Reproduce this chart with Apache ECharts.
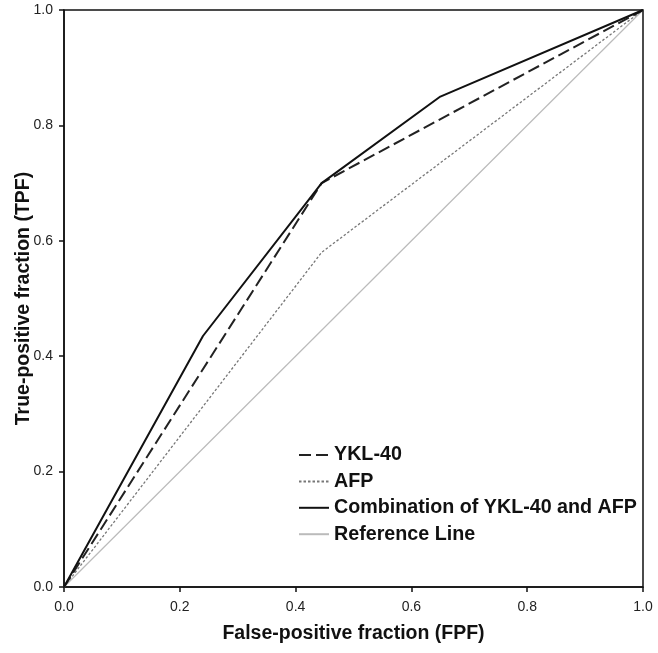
<!DOCTYPE html>
<html>
<head>
    <meta charset="UTF-8">
    <title>ROC curves</title>
    <script src="https://cdn.jsdelivr.net/npm/echarts@6/dist/echarts.min.js"></script>
    <style>
        body { margin: 0; background: #fff; }
        #main { width: 658px; height: 653px; }
    </style>
</head>
<body>
    <div id="main"></div>
    <script type="text/javascript">
        // ROC points, [FPF, TPF]
        var ykl40 = [[0, 0], [0.445, 0.70], [1, 1]];
        var afp = [[0, 0], [0.445, 0.58], [1, 1]];
        var combination = [[0, 0], [0.24, 0.435], [0.445, 0.70], [0.65, 0.85], [1, 1]];
        var referenceLine = [[0, 0], [1, 1]];

        var myChart = echarts.init(document.getElementById('main'));
        var font = 'Arial, "Liberation Sans", sans-serif';

        function axisBits(name, gap, rotate, margin) {
            return {
                type: 'value',
                min: 0,
                max: 1,
                interval: 0.2,
                name: name,
                nameLocation: 'middle',
                nameGap: gap,
                nameRotate: rotate,
                nameMoveOverlap: false,
                nameTextStyle: { fontFamily: font, fontSize: 19.5, fontWeight: 'bold', color: '#111' },
                axisLine: { show: true, lineStyle: { color: '#111', width: 1.5 } },
                axisTick: { show: true, length: 5, lineStyle: { color: '#111', width: 1.5 } },
                axisLabel: {
                    fontFamily: font, fontSize: 14, color: '#222', margin: margin,
                    formatter: function (v) { return v.toFixed(1); }
                },
                splitLine: { show: false }
            };
        }

        myChart.setOption({
            animation: false,
            backgroundColor: '#fff',
            grid: {
                left: 64, right: 15, top: 10, bottom: 66,
                outerBoundsMode: 'none',
                show: true, borderColor: '#111', borderWidth: 1.5
            },
            xAxis: axisBits('False-positive fraction (FPF)', 37, 0, 13),
            yAxis: axisBits('True-positive fraction (TPF)', 30, 90, 11),
            legend: {
                orient: 'vertical',
                left: 293,
                top: 440,
                itemWidth: 30,
                itemHeight: 14,
                itemGap: 6.4,
                itemStyle: { opacity: 0 },
                textStyle: { fontFamily: font, fontSize: 19.7, fontWeight: 'bold', color: '#111' },
                data: ['YKL-40', 'AFP', 'Combination of YKL-40 and AFP', 'Reference Line']
            },
            series: [
                {
                    name: 'YKL-40', type: 'line', data: ykl40, symbol: 'none',
                    itemStyle: { color: '#222' },
                    lineStyle: { color: '#222', width: 2, type: [12, 5] }, z: 3
                },
                {
                    name: 'AFP', type: 'line', data: afp, symbol: 'none',
                    itemStyle: { color: '#777' },
                    lineStyle: { color: '#777', width: 1.3, type: [2.5, 2] }, z: 2
                },
                {
                    name: 'Combination of YKL-40 and AFP', type: 'line', data: combination, symbol: 'none',
                    itemStyle: { color: '#111' },
                    lineStyle: { color: '#111', width: 2 }, z: 4
                },
                {
                    name: 'Reference Line', type: 'line', data: referenceLine, symbol: 'none',
                    itemStyle: { color: '#bbb' },
                    lineStyle: { color: '#bbb', width: 1.2 }, z: 1
                }
            ]
        });
    </script>
</body>
</html>
